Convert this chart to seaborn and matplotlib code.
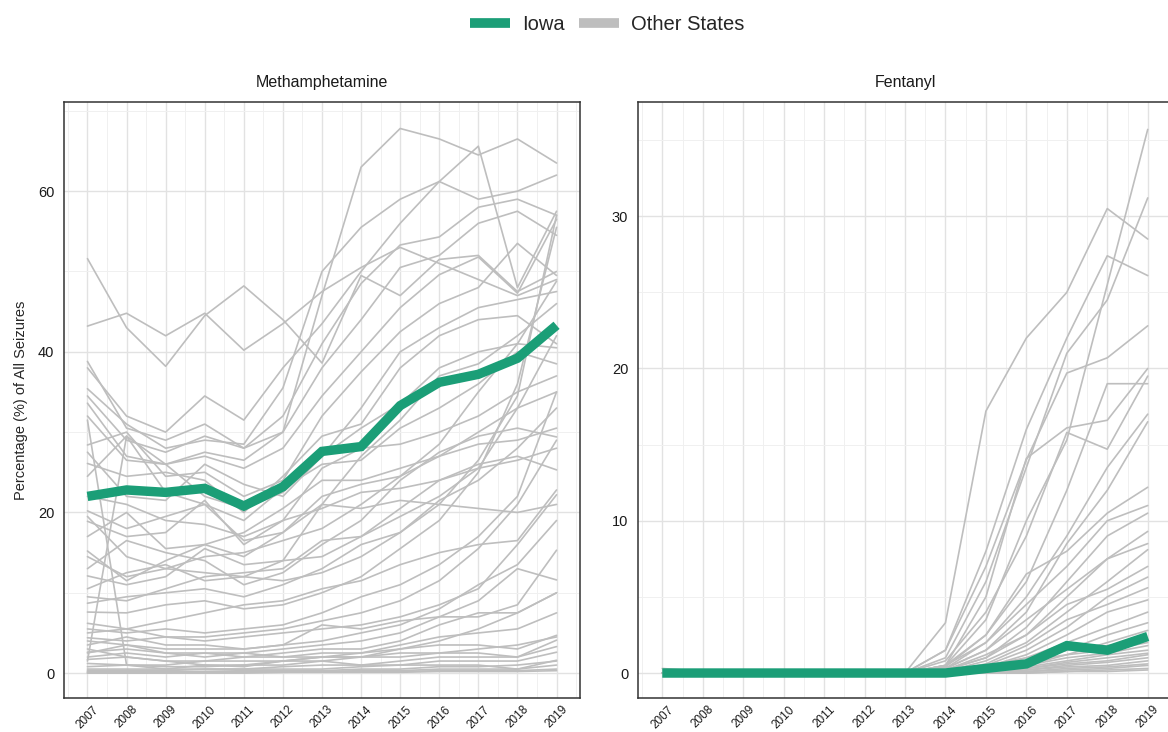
import numpy as np
import pandas as pd
import seaborn as sns
import matplotlib.pyplot as plt
from matplotlib.lines import Line2D
from matplotlib.ticker import MultipleLocator

# years on the x axis
years = list(range(2007, 2020))

# Iowa share of seizures (%)
iowa_meth = [22.0, 22.8, 22.5, 23.0, 20.8, 23.2, 27.6, 28.2, 33.3, 36.2, 37.2, 39.2, 43.3]
iowa_fent = [0.0, 0.0, 0.0, 0.0, 0.0, 0.0, 0.0, 0.0, 0.3, 0.6, 1.8, 1.5, 2.4]

# other states, methamphetamine (%), one row per state
other_meth = [
    [51.6, 43.0, 38.2, 44.5, 48.2, 44.0, 38.6, 49.5, 47.0, 51.5, 52.0, 47.5, 50.0],
    [43.2, 44.8, 42.0, 44.8, 40.2, 43.5, 47.5, 50.5, 53.0, 51.0, 49.0, 47.0, 49.0],
    [38.8, 30.5, 29.0, 31.0, 28.0, 30.0, 47.0, 63.0, 67.8, 66.5, 64.5, 66.5, 63.5],
    [38.0, 32.0, 30.0, 34.5, 31.5, 38.0, 43.5, 50.0, 56.0, 61.2, 65.6, 48.0, 57.5],
    [35.4, 31.0, 28.0, 29.0, 28.5, 35.5, 50.0, 55.5, 59.0, 61.2, 59.0, 60.0, 62.0],
    [34.5, 29.0, 27.5, 29.5, 28.0, 32.0, 41.0, 48.5, 53.3, 54.3, 58.0, 59.0, 57.0],
    [33.6, 27.0, 26.0, 27.5, 26.5, 30.0, 38.0, 44.0, 50.5, 52.0, 56.0, 57.5, 54.5],
    [32.0, 26.5, 26.0, 27.0, 25.5, 28.0, 34.5, 40.0, 45.5, 49.6, 51.8, 47.3, 56.5],
    [28.4, 30.0, 24.5, 25.0, 22.0, 24.0, 32.0, 37.5, 42.5, 46.0, 48.0, 53.5, 49.5],
    [27.5, 22.0, 21.5, 26.0, 23.5, 22.0, 27.0, 33.0, 40.0, 43.0, 45.5, 46.5, 47.5],
    [26.1, 24.5, 25.0, 24.0, 20.0, 24.5, 29.5, 31.0, 38.0, 42.0, 44.0, 44.5, 41.0],
    [31.5, 1.0, 0.5, 1.0, 0.8, 1.5, 2.0, 2.5, 3.5, 4.5, 5.0, 5.5, 7.5],
    [24.5, 29.5, 26.0, 22.0, 20.5, 22.5, 27.0, 30.5, 33.5, 38.0, 40.0, 41.0, 40.5],
    [20.2, 18.0, 19.5, 21.0, 19.0, 23.0, 26.0, 26.5, 30.5, 33.0, 36.0, 40.0, 38.5],
    [18.9, 17.0, 17.5, 21.5, 16.0, 19.0, 25.5, 28.0, 28.5, 30.0, 32.0, 35.0, 37.0],
    [17.0, 20.0, 15.5, 16.0, 17.5, 20.5, 24.0, 24.0, 25.5, 27.0, 30.0, 33.0, 35.0],
    [15.2, 11.5, 14.0, 16.0, 14.5, 17.5, 22.0, 23.5, 24.5, 27.0, 28.5, 29.0, 30.5],
    [13.0, 16.5, 15.0, 14.0, 11.0, 12.5, 16.0, 19.0, 24.0, 27.5, 29.5, 30.5, 29.4],
    [12.1, 11.0, 12.0, 15.5, 13.5, 14.0, 14.5, 17.0, 20.5, 24.0, 26.0, 27.0, 25.3],
    [22.0, 21.0, 19.0, 18.5, 17.0, 19.0, 20.5, 22.5, 23.0, 24.0, 25.5, 26.5, 28.0],
    [19.5, 14.5, 13.0, 12.5, 12.0, 11.5, 12.5, 14.5, 17.5, 21.5, 24.0, 28.0, 33.0],
    [1.5, 29.5, 22.5, 21.0, 16.5, 17.5, 21.0, 20.5, 21.5, 21.0, 20.5, 20.0, 21.0],
    [14.5, 12.0, 13.0, 14.5, 15.0, 16.5, 18.0, 21.0, 24.5, 28.5, 35.0, 41.0, 48.8],
    [10.5, 12.5, 13.5, 11.5, 12.0, 14.0, 21.0, 27.0, 31.5, 37.0, 38.5, 42.0, 46.0],
    [9.5, 9.0, 10.5, 12.0, 12.5, 13.0, 16.5, 17.0, 19.5, 22.0, 25.5, 33.0, 42.0],
    [8.7, 9.5, 10.0, 10.5, 9.5, 11.0, 13.0, 16.0, 17.5, 21.0, 26.5, 34.5, 57.0],
    [7.6, 7.5, 8.5, 9.0, 8.0, 8.5, 10.0, 12.0, 15.5, 19.0, 25.0, 36.0, 55.5],
    [6.2, 5.5, 6.5, 7.5, 8.5, 9.0, 10.5, 11.5, 13.5, 15.0, 16.0, 16.5, 22.8],
    [5.5, 5.0, 5.5, 5.0, 5.5, 6.0, 7.5, 9.5, 11.0, 13.5, 17.0, 22.0, 35.0],
    [5.0, 5.5, 4.5, 4.5, 5.0, 5.5, 6.5, 7.5, 9.0, 11.5, 15.5, 21.0, 29.0],
    [4.4, 4.0, 4.5, 4.0, 4.5, 5.0, 5.5, 6.0, 7.0, 8.5, 10.5, 16.0, 22.2],
    [3.5, 4.5, 3.5, 3.5, 3.0, 3.5, 4.0, 5.0, 6.0, 8.0, 11.0, 13.5, 19.0],
    [4.0, 3.5, 3.0, 3.0, 3.0, 3.5, 6.0, 5.5, 6.5, 7.0, 7.0, 8.5, 15.3],
    [2.6, 3.0, 2.5, 2.5, 2.5, 3.0, 3.5, 4.0, 5.0, 7.0, 9.0, 13.0, 11.6],
    [2.0, 2.5, 2.0, 2.5, 2.0, 2.5, 3.0, 3.0, 4.0, 6.0, 7.5, 7.5, 10.0],
    [3.0, 2.0, 1.5, 1.0, 1.0, 1.5, 1.5, 2.0, 3.0, 4.0, 5.5, 7.5, 10.0],
    [2.5, 3.5, 2.5, 2.0, 2.5, 2.0, 2.0, 2.0, 2.0, 2.5, 3.0, 3.5, 4.5],
    [1.7, 2.0, 1.5, 1.5, 2.0, 2.0, 2.5, 2.5, 3.0, 3.5, 3.5, 3.0, 4.7],
    [1.2, 1.0, 1.0, 1.5, 1.5, 1.5, 2.0, 2.0, 2.5, 2.5, 2.5, 2.0, 4.1],
    [0.8, 1.0, 0.8, 0.8, 1.0, 1.0, 1.5, 1.0, 1.5, 2.0, 2.0, 2.0, 3.3],
    [0.5, 0.5, 0.5, 0.5, 0.5, 0.8, 1.0, 1.0, 1.0, 1.5, 1.5, 1.5, 2.6],
    [0.3, 0.3, 0.3, 0.5, 0.5, 0.5, 0.5, 0.8, 1.0, 1.0, 1.0, 0.5, 1.6],
    [0.2, 0.2, 0.2, 0.2, 0.3, 0.3, 0.3, 0.5, 0.5, 0.8, 0.8, 1.0, 1.5],
    [0.1, 0.1, 0.1, 0.2, 0.2, 0.2, 0.2, 0.3, 0.3, 0.5, 0.5, 0.5, 1.0],
    [0.0, 0.0, 0.1, 0.1, 0.1, 0.1, 0.2, 0.2, 0.2, 0.3, 0.3, 0.3, 0.5],
    [0.0, 0.0, 0.0, 0.0, 0.0, 0.1, 0.1, 0.1, 0.1, 0.2, 0.2, 0.2, 0.3],
]

# other states, fentanyl (%)
other_fent = [
    [0.0, 0.0, 0.0, 0.0, 0.0, 0.0, 0.0, 3.3, 17.2, 22.0, 25.0, 30.5, 28.5],
    [0.0, 0.0, 0.0, 0.0, 0.0, 0.0, 0.0, 1.5, 8.0, 16.0, 22.0, 27.4, 26.1],
    [0.0, 0.0, 0.0, 0.0, 0.0, 0.0, 0.0, 0.5, 3.5, 10.0, 15.3, 25.5, 35.7],
    [0.0, 0.0, 0.0, 0.0, 0.0, 0.0, 0.0, 1.0, 6.0, 13.5, 21.0, 24.5, 31.2],
    [0.0, 0.0, 0.0, 0.0, 0.0, 0.0, 0.0, 1.5, 7.0, 14.0, 19.7, 20.7, 22.8],
    [0.0, 0.0, 0.0, 0.0, 0.0, 0.0, 0.0, 0.5, 5.0, 14.1, 16.1, 16.6, 20.0],
    [0.0, 0.0, 0.0, 0.0, 0.0, 0.0, 0.0, 0.8, 4.0, 9.0, 15.8, 14.7, 19.5],
    [0.0, 0.0, 0.0, 0.0, 0.0, 0.0, 0.0, 0.5, 2.5, 6.0, 12.0, 19.0, 19.0],
    [0.0, 0.0, 0.0, 0.0, 0.0, 0.0, 0.0, 0.3, 2.0, 5.0, 9.0, 13.5, 17.0],
    [0.0, 0.0, 0.0, 0.0, 0.0, 0.0, 0.0, 0.3, 1.5, 4.0, 8.5, 12.0, 16.5],
    [0.0, 0.0, 0.0, 0.0, 0.0, 0.0, 0.0, 0.4, 2.5, 6.5, 8.0, 10.5, 12.2],
    [0.0, 0.0, 0.0, 0.0, 0.0, 0.0, 0.0, 0.5, 2.0, 4.5, 7.0, 10.0, 11.0],
    [0.0, 0.0, 0.0, 0.0, 0.0, 0.0, 0.0, 0.2, 1.0, 3.0, 6.0, 9.0, 10.5],
    [0.0, 0.0, 0.0, 0.0, 0.0, 0.0, 0.0, 0.3, 1.5, 3.5, 5.5, 7.5, 9.3],
    [0.0, 0.0, 0.0, 0.0, 0.0, 0.0, 0.0, 0.2, 1.0, 2.5, 5.0, 7.5, 8.5],
    [0.0, 0.0, 0.0, 0.0, 0.0, 0.0, 0.0, 0.1, 0.8, 2.0, 4.0, 6.0, 8.1],
    [0.0, 0.0, 0.0, 0.0, 0.0, 0.0, 0.0, 0.2, 1.2, 2.5, 4.5, 5.5, 7.0],
    [0.0, 0.0, 0.0, 0.0, 0.0, 0.0, 0.0, 0.1, 0.5, 1.5, 3.0, 5.0, 6.3],
    [0.0, 0.0, 0.0, 0.0, 0.0, 0.0, 0.0, 0.1, 0.6, 1.8, 3.5, 4.5, 5.6],
    [0.0, 0.0, 0.0, 0.0, 0.0, 0.0, 0.0, 0.1, 0.4, 1.2, 2.5, 4.0, 4.8],
    [0.0, 0.0, 0.0, 0.0, 0.0, 0.0, 0.0, 0.1, 0.3, 1.0, 2.0, 3.0, 4.0],
    [0.0, 0.0, 0.0, 0.0, 0.0, 0.0, 0.0, 0.0, 0.2, 0.8, 1.5, 2.5, 3.3],
    [0.0, 0.0, 0.0, 0.0, 0.0, 0.0, 0.0, 0.0, 0.2, 0.5, 1.2, 2.0, 2.8],
    [0.0, 0.0, 0.0, 0.0, 0.0, 0.0, 0.0, 0.1, 0.5, 1.0, 1.5, 1.8, 2.2],
    [0.0, 0.0, 0.0, 0.0, 0.0, 0.0, 0.0, 0.0, 0.3, 0.8, 1.2, 1.5, 2.0],
    [0.0, 0.0, 0.0, 0.0, 0.0, 0.0, 0.0, 0.0, 0.2, 0.5, 1.0, 1.3, 1.8],
    [0.0, 0.0, 0.0, 0.0, 0.0, 0.0, 0.0, 0.0, 0.1, 0.4, 0.8, 1.2, 1.5],
    [0.0, 0.0, 0.0, 0.0, 0.0, 0.0, 0.0, 0.0, 0.1, 0.3, 0.7, 1.0, 1.3],
    [0.3, 0.1, 0.0, 0.0, 0.0, 0.0, 0.0, 0.0, 0.1, 0.3, 0.6, 0.8, 1.2],
    [0.0, 0.0, 0.0, 0.0, 0.0, 0.0, 0.0, 0.0, 0.1, 0.2, 0.5, 0.7, 1.0],
    [0.0, 0.0, 0.0, 0.0, 0.0, 0.0, 0.0, 0.0, 0.0, 0.2, 0.4, 0.5, 0.8],
    [0.0, 0.0, 0.0, 0.0, 0.0, 0.0, 0.0, 0.0, 0.0, 0.1, 0.3, 0.4, 0.6],
    [0.0, 0.0, 0.0, 0.0, 0.0, 0.0, 0.0, 0.0, 0.0, 0.1, 0.2, 0.3, 0.5],
    [0.0, 0.0, 0.0, 0.0, 0.0, 0.0, 0.0, 0.0, 0.0, 0.0, 0.1, 0.2, 0.3],
    [0.0, 0.0, 0.0, 0.0, 0.0, 0.0, 0.0, 0.0, 0.0, 0.0, 0.1, 0.1, 0.2],
]

GRAY = "#BEBEBE"
GREEN = "#1B9E77"


def to_long(rows):
    recs = []
    for i, vals in enumerate(rows):
        for yr, v in zip(years, vals):
            recs.append({"state": i, "year": yr, "pct": v})
    return pd.DataFrame(recs)


sns.set_style("white")
plt.rcParams["font.family"] = ["Liberation Sans", "DejaVu Sans"]

fig = plt.figure(figsize=(11.68, 7.32), dpi=100)
W, H = 1168, 732
# axes boxes in pixels: left, right, top, bottom
top, bottom = 102, 698
ax1 = fig.add_axes([64 / W, (H - bottom) / H, (580 - 64) / W, (bottom - top) / H])
ax2 = fig.add_axes([638 / W, (H - bottom) / H, (1172 - 638) / W, (bottom - top) / H])

panels = [
    (ax1, other_meth, iowa_meth, "Methamphetamine", (-3.1, 71.1), 20),
    (ax2, other_fent, iowa_fent, "Fentanyl", (-1.64, 37.5), 10),
]

for ax, others, iowa, title, ylim, step in panels:
    sns.lineplot(data=to_long(others), x="year", y="pct", units="state",
                 estimator=None, color=GRAY, linewidth=1.2, ax=ax, zorder=2)
    sns.lineplot(x=years, y=iowa, color=GREEN, linewidth=6.8, ax=ax, zorder=3,
                 solid_joinstyle="miter", solid_capstyle="butt")
    ax.set_xlim(2006.4, 2019.6)
    ax.set_ylim(*ylim)
    ax.xaxis.set_major_locator(MultipleLocator(1))
    ax.xaxis.set_minor_locator(MultipleLocator(0.5))
    ax.yaxis.set_major_locator(MultipleLocator(step))
    ax.yaxis.set_minor_locator(MultipleLocator(step / 2))
    ax.grid(which="major", color="#E2E2E2", linewidth=1.0, zorder=0)
    ax.grid(which="minor", color="#F0F0F0", linewidth=0.7, zorder=0)
    ax.set_axisbelow(True)
    for sp in ax.spines.values():
        sp.set_color("#333333")
        sp.set_linewidth(1.1)
    ax.tick_params(which="major", direction="out", length=4, width=1,
                   color="#333333", labelsize=10.5, labelcolor="#1A1A1A", pad=3)
    ax.tick_params(which="minor", length=0)
    ax.set_xticks(years)
    ax.set_xticklabels([str(y) for y in years], rotation=45, ha="center",
                       va="top", fontsize=8.5)
    ax.tick_params(axis="x", pad=0.5, length=3.5)
    ax.set_title(title, fontsize=11.5, pad=11, color="#1A1A1A")
    ax.set_xlabel("")
    ax.set_ylabel("")

# the reference crops the right panel's frame at the image edge
ax2.spines["right"].set_visible(False)

ax1.set_ylabel("Percentage (%) of All Seizures", fontsize=10.5, labelpad=7)

handles = [Line2D([0], [0], color=GREEN, linewidth=7, solid_capstyle="butt"),
           Line2D([0], [0], color=GRAY, linewidth=7, solid_capstyle="butt")]
fig.legend(handles, ["Iowa", "Other States"], loc="center",
           bbox_to_anchor=(0.52, 0.966), ncol=2, frameon=False,
           fontsize=14.5, handlelength=2.0, columnspacing=0.7, handletextpad=0.6)

fig.savefig("out.png", dpi=100)
